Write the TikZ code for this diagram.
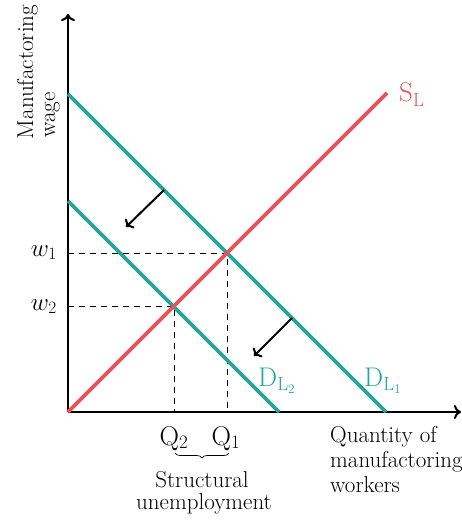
\documentclass[tikz,border=0pt]{standalone}
\usetikzlibrary{arrows.meta,decorations.pathreplacing}
\definecolor{tealc}{RGB}{38,166,154}
\definecolor{redc}{RGB}{234,82,88}
\begin{document}
\begin{tikzpicture}[x=1pt,y=-1pt,
  axis/.style={line width=2pt,-{To[length=7pt,width=14pt]}},
  curve/.style={line width=3.6pt},
  shift arrow/.style={line width=2pt,-{To[length=6pt,width=13pt]}},
  guide/.style={line width=0.8pt,dash pattern=on 6pt off 5pt},
  lbl/.style={inner sep=0pt,font=\fontsize{23}{25}\selectfont},
  sym/.style={inner sep=0pt,font=\fontsize{27}{30}\selectfont}]
\useasboundingbox (0,0) rectangle (462,521);
% axes
\coordinate (O) at (68,412);
\coordinate (ytop) at (68,14);
\coordinate (xend) at (461,412);
\draw[axis] (O) -- (ytop);
\draw[axis] (O) -- (xend);
% curve ends
\coordinate (S0) at (68,412);
\coordinate (S1) at (387,93);
\coordinate (D1a) at (68,94);
\coordinate (D1b) at (386,412);
\coordinate (D2a) at (68,201);
\coordinate (D2b) at (279,412);
\coordinate (E1) at (227,253);
\coordinate (E2) at (174,306);
\coordinate (W1) at (68,253);
\coordinate (W2) at (68,306);
\coordinate (Q1b) at (227,412);
\coordinate (Q2b) at (174,412);
% guides
\draw[guide] (W1) -- (E1) -- (Q1b);
\draw[guide] (W2) -- (E2) -- (Q2b);
% curves
\draw[curve,tealc] (D1a) -- (D1b);
\draw[curve,tealc] (D2a) -- (D2b);
\draw[curve,redc] (S0) -- (S1);
% shift arrows
\coordinate (a1s) at (164,190);
\coordinate (a1e) at (126,227);
\coordinate (a2s) at (292,318);
\coordinate (a2e) at (254,356);
\draw[shift arrow] (a1s) -- (a1e);
\draw[shift arrow] (a2s) -- (a2e);
% labels
\node[sym,text=redc,anchor=base west] (sl) at (399,102) {S\textsubscript{L}};
\node[sym,text=tealc,anchor=base west] (dl2) at (258,386) {D\textsubscript{L\textsubscript{2}}};
\node[sym,text=tealc,anchor=base west] (dl1) at (364,386) {D\textsubscript{L\textsubscript{1}}};
\node[sym,anchor=base east] (w1) at (57,256) {$w_1$};
\node[sym,anchor=base east] (w2) at (57,310) {$w_2$};
\node[sym,anchor=base] (q2) at (174,445) {Q\textsubscript{2}};
\node[sym,anchor=base] (q1) at (226,445) {Q\textsubscript{1}};
\coordinate (brl) at (175,453);
\coordinate (brr) at (229,453);
\draw[line width=0.7pt,decorate,decoration={brace,mirror,amplitude=5pt}] (brl) -- (brr);
\node[lbl,anchor=base,align=center] (su) at (202,487) {Structural};
\node[lbl,anchor=base,align=center] (su2) at (204,509) {unemployment};
\node[lbl,anchor=base west] (xl1) at (330,442) {Quantity of};
\node[lbl,anchor=base west] (xl2) at (330,467) {manufactoring};
\node[lbl,anchor=base west] (xl3) at (330,492) {workers};
\node[lbl,rotate=90,anchor=base] (yl1) at (33,72) {Manufactoring};
\node[lbl,rotate=90,anchor=base] (yl2) at (55,115) {wage};
\end{tikzpicture}
\end{document}
